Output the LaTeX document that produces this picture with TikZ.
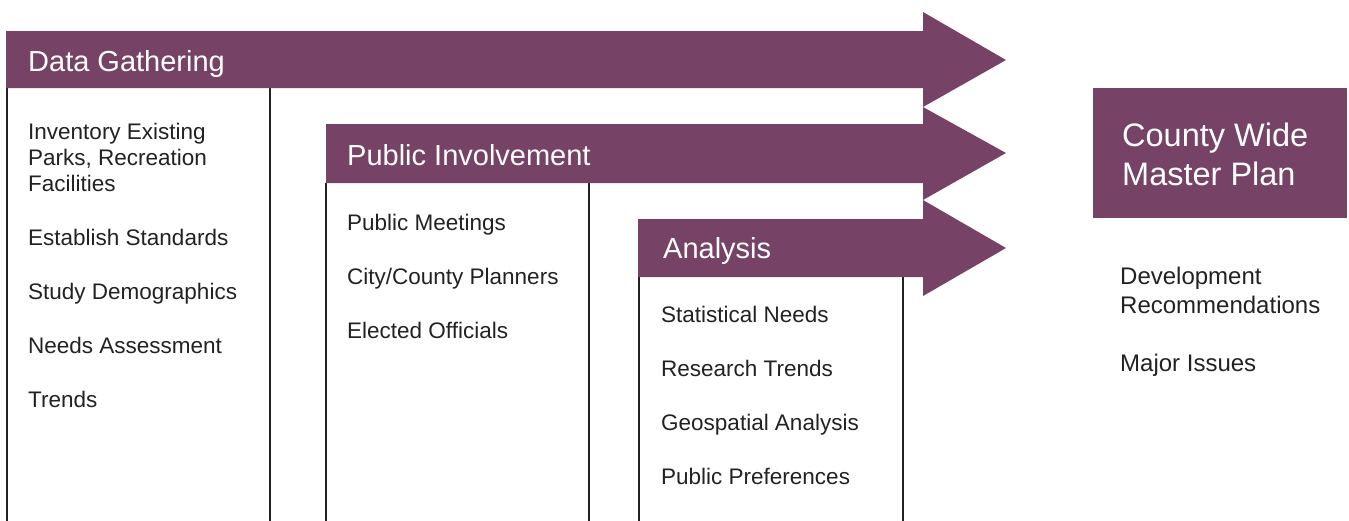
\documentclass[tikz,border=0pt]{standalone}
\usepackage{fontspec}
\setmainfont{Liberation Sans}
\definecolor{plum}{RGB}{118,66,101}
\definecolor{ink}{RGB}{34,34,34}
\tikzset{
  band/.style={fill=plum, draw=none},
  col/.style={draw=ink, line width=1.8pt},
  head/.style={anchor=base west, inner sep=0pt, text=white, font=\fontsize{29}{35}\selectfont},
  item/.style={anchor=base west, inner sep=0pt, text=ink, font=\fontsize{22.5}{26}\selectfont},
  ritem/.style={anchor=base west, inner sep=0pt, text=ink, font=\fontsize{24}{29}\selectfont},
  big/.style={anchor=base west, inner sep=0pt, text=white, font=\fontsize{32.5}{39}\selectfont},
}
\begin{document}
\begin{tikzpicture}[x=1pt,y=-1pt]
\useasboundingbox (0,0) rectangle (1349,520);
% column boxes (open at bottom)
\draw[col] (7,88) -- (7,521);
\draw[col] (270,88) -- (270,521);
\draw[col] (326,183) -- (326,521);
\draw[col] (589,183) -- (589,521);
\draw[col] (639,277) -- (639,521);
\draw[col] (903,277) -- (903,521);
% arrows
\fill[band] (6,31) -- (923,31) -- (923,12) -- (1006,60) -- (923,107) -- (923,88) -- (6,88) -- cycle;
\fill[band] (326,124) -- (923,124) -- (923,107) -- (1006,153) -- (923,200) -- (923,183) -- (326,183) -- cycle;
\fill[band] (638,219) -- (923,219) -- (923,200) -- (1006,248) -- (923,296) -- (923,277) -- (638,277) -- cycle;
% headers
\node[head] (h1) at (28,71) {Data Gathering};
\node[head] (h2) at (347,165) {Public Involvement};
\node[head] (h3) at (663,258) {Analysis};
% column 1
\node[item] (a1) at (28,139) {Inventory Existing};
\node[item] (a1b) at (28,165) {Parks, Recreation};
\node[item] (a1c) at (28,191) {Facilities};
\node[item] (a2) at (28,245) {Establish Standards};
\node[item] (a3) at (28,299) {Study Demographics};
\node[item] (a4) at (28,353) {Needs Assessment};
\node[item] (a5) at (28,407) {Trends};
% column 2
\node[item] (b1) at (347,230) {Public Meetings};
\node[item] (b2) at (347,284) {City/County Planners};
\node[item] (b3) at (347,338) {Elected Officials};
% column 3
\node[item] (c1) at (661,322) {Statistical Needs};
\node[item] (c2) at (661,376) {Research Trends};
\node[item] (c3) at (661,430) {Geospatial Analysis};
\node[item] (c4) at (661,484) {Public Preferences};
% master plan
\fill[band] (1093,88) rectangle (1347,218);
\node[big] (m1) at (1122,146) {County Wide};
\node[big] (m2) at (1122,185) {Master Plan};
\node[ritem] (r1) at (1120,284) {Development};
\node[ritem] (r1b) at (1120,313) {Recommendations};
\node[ritem] (r2) at (1120,371) {Major Issues};
\end{tikzpicture}
\end{document}
